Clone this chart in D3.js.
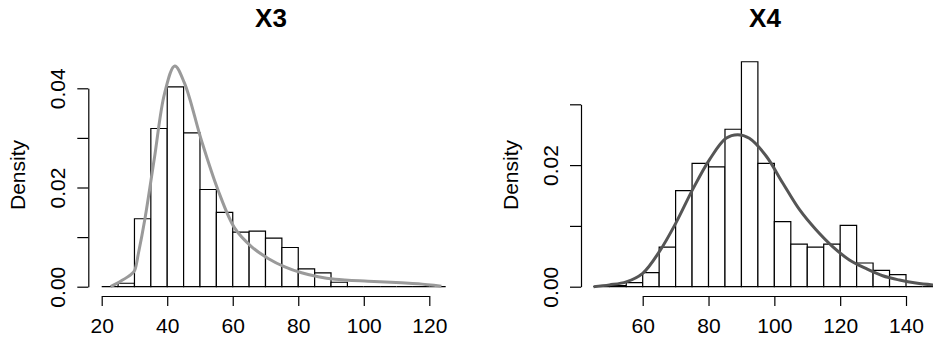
<!DOCTYPE html>
<html>
<head>
<meta charset="utf-8">
<script src="https://cdn.jsdelivr.net/npm/d3@7"></script>
<style>
  body { margin: 0; background: #fff; }
  svg { display: block; font-family: "Liberation Sans", Arial, sans-serif; }
</style>
</head>
<body>
<div id="chart"></div>
<script>
// X3 histogram: bin breaks and densities
const x3Breaks = [20, 25, 30, 35, 40, 45, 50, 55, 60, 65, 70, 75, 80, 85, 90, 95, 100, 105, 110, 115, 120, 125];
const x3Density = [0, 0.0007, 0.0137, 0.0319, 0.0403, 0.0310, 0.0196, 0.0150, 0.0110, 0.0112, 0.0098, 0.0079,
  0.0036, 0.0028, 0.0009, 0, 0, 0, 0, 0, 0];
// X3 density curve
const x3CurveX = [22.7, 26, 29, 30, 31.2, 33.2, 36.1, 39.2, 42.3, 45.3, 50.4, 55.5, 60.6, 65.7, 70.8, 75.9, 81, 86.1, 91.2, 101.3, 111.5, 116.6, 123.7];
const x3CurveY = [0, 0.0012, 0.0025, 0.0032, 0.0067, 0.0137, 0.026, 0.039, 0.0445, 0.041, 0.0296, 0.0195, 0.0118,
  0.0081, 0.0057, 0.0040, 0.0028, 0.0020, 0.0015, 0.0011, 0.0008, 0.0006, 0.0001];
const x3XTicks = [20, 40, 60, 80, 100, 120];
const x3YTicks = [0, 0.01, 0.02, 0.03, 0.04];

// X4 histogram
const x4Breaks = [45, 50, 55, 60, 65, 70, 75, 80, 85, 90, 95, 100, 105, 110, 115, 120, 125, 130, 135, 140, 145, 150];
const x4Density = [0, 0.0002, 0.00066, 0.0023, 0.0065, 0.0158, 0.0203, 0.0197, 0.0259, 0.0370, 0.0203, 0.0107,
  0.0070, 0.0065, 0.0070, 0.0101, 0.0039, 0.0027, 0.0020, 0, 0];
const x4CurveX = [45.1, 49.9, 55, 60, 65.1, 70.1, 75.2, 80.3, 85.3, 88.9, 92.4, 97.5, 102.5, 107.6, 112.6, 117.7,
  122.8, 127.8, 132.9, 138, 143, 148.1, 151];
const x4CurveY = [0, 0.0003, 0.0008, 0.0022, 0.0058, 0.0105, 0.016, 0.0209, 0.0244, 0.025, 0.0244, 0.0215, 0.0171,
  0.0127, 0.0094, 0.0066, 0.0044, 0.003, 0.0018, 0.0011, 0.0006, 0.0003, 0.0002];
const x4XTicks = [60, 80, 100, 120, 140];
const x4YTicks = [0, 0.01, 0.02, 0.03];

const width = 933;
const height = 342;

const svg = d3.select('#chart').append('svg')
  .attr('width', width)
  .attr('height', height);

function drawPanel(opts) {
  const x = d3.scaleLinear().domain(d3.extent(opts.xTicks)).range(opts.xRange);
  const y = d3.scaleLinear().domain(d3.extent(opts.yTicks)).range(opts.yRange);
  const g = svg.append('g');

  // bars as closed paths so zero-height bins still show as a line
  const bins = opts.density.map((d, i) => ({ x0: opts.breaks[i], x1: opts.breaks[i + 1], d }));
  g.append('g')
    .selectAll('path')
    .data(bins)
    .join('path')
    .attr('d', b => `M${x(b.x0)},${y(0)}V${y(b.d)}H${x(b.x1)}V${y(0)}Z`)
    .attr('fill', '#fff')
    .attr('stroke', '#000')
    .attr('stroke-width', 1.2);

  const line = d3.line()
    .x(d => x(d[0]))
    .y(d => y(d[1]))
    .curve(d3.curveCatmullRom.alpha(0.5));
  g.append('path')
    .datum(d3.zip(opts.curveX, opts.curveY))
    .attr('d', line)
    .attr('fill', 'none')
    .attr('stroke', opts.curveColor)
    .attr('stroke-width', 3);

  // x axis, offset below the bars like R
  const xAxis = g.append('g')
    .attr('transform', `translate(0,${opts.xAxisY})`)
    .call(d3.axisBottom(x).tickValues(opts.xTicks).tickSize(10).tickSizeOuter(0).tickFormat(d3.format('d')));
  xAxis.selectAll('text')
    .attr('y', 37).attr('dy', 0)
    .attr('font-size', 21).attr('fill', '#000');

  // y axis with rotated labels, only every other one labelled
  const yAxis = g.append('g')
    .attr('transform', `translate(${opts.yAxisX},0)`)
    .call(d3.axisLeft(y).tickValues(opts.yTicks).tickSize(11).tickSizeOuter(0)
      .tickFormat(d => (Math.round(d * 100) % 2 === 0 ? d3.format('.2f')(d) : '')));
  yAxis.selectAll('text')
    .attr('x', 0).attr('dy', 0)
    .attr('transform', 'translate(-23,0) rotate(-90)')
    .attr('text-anchor', 'middle')
    .attr('font-size', 21).attr('fill', '#000');

  svg.selectAll('.domain, .tick line').attr('stroke', '#000').attr('stroke-width', 1.2);

  g.append('text')
    .attr('transform', `translate(${opts.yAxisX - 63},${opts.labelY}) rotate(-90)`)
    .attr('text-anchor', 'middle')
    .attr('font-size', 21)
    .text('Density');

  g.append('text')
    .attr('x', opts.titleX)
    .attr('y', 27)
    .attr('text-anchor', 'middle')
    .attr('font-size', 26)
    .attr('font-weight', 'bold')
    .text(opts.title);
}

drawPanel({
  title: 'X3', titleX: 271,
  breaks: x3Breaks, density: x3Density, curveX: x3CurveX, curveY: x3CurveY,
  xTicks: x3XTicks, yTicks: x3YTicks,
  xRange: [101.7, 429.3], yRange: [286.7, 88.3],
  xAxisY: 296, yAxisX: 88.3, labelY: 175,
  curveColor: '#9a9a9a'
});

drawPanel({
  title: 'X4', titleX: 765,
  breaks: x4Breaks, density: x4Density, curveX: x4CurveX, curveY: x4CurveY,
  xTicks: x4XTicks, yTicks: x4YTicks,
  xRange: [642.7, 906], yRange: [286.7, 104.3],
  xAxisY: 296, yAxisX: 581, labelY: 175,
  curveColor: '#555555'
});
</script>
</body>
</html>
